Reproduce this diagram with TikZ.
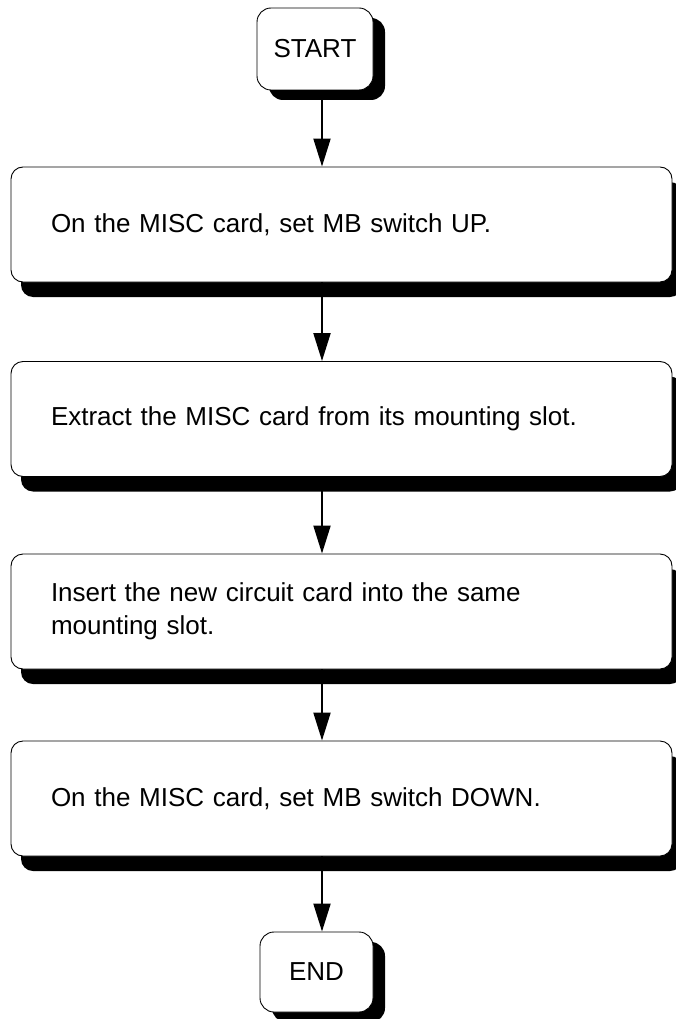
\documentclass[tikz,border=0pt]{standalone}
\usepackage{fontspec}
\setmainfont{Liberation Sans}
\usetikzlibrary{arrows.meta, shadows}
\begin{document}
\begin{tikzpicture}[
    x=1pt, y=-1pt,
    >={Triangle[length=28pt, width=17pt]},
    arr/.style={->, line width=2pt},
    txt/.style={font=\fontsize{26}{33}\selectfont},
    term/.style={txt, draw, line width=0.9pt, fill=white, rounded corners=14pt,
        minimum width=116pt, minimum height=82pt, inner sep=0pt,
        drop shadow={shadow xshift=12pt, shadow yshift=-10pt, fill=black, opacity=1}},
    proc/.style={txt, draw, line width=0.9pt, fill=white, rounded corners=12pt,
        minimum height=115pt, inner xsep=40pt, inner ysep=0pt, text width=581pt, align=left,
        drop shadow={shadow xshift=10pt, shadow yshift=-15pt, fill=black, opacity=1}},
]
\useasboundingbox (0,0) rectangle (676,1019);
% === Terminals and steps ===
\node[term] (start) at (315, 49) {START};
\node[proc] (s1) at (341.5, 224.5) {On the MISC card, set MB switch UP.};
\node[proc] (s2) at (341.5, 419) {Extract the MISC card from its mounting slot.};
\node[proc] (s3) at (341.5, 611.5) {Insert the new circuit card into the same\\mounting slot.};
\node[proc] (s4) at (341.5, 798.5) {On the MISC card, set MB switch DOWN.};
\node[term, minimum width=113pt, minimum height=80pt] (stop) at (316.5, 972) {END};
% === Connectors ===
\coordinate (ax) at (322, 0);
\draw[arr] (start.south -| ax) -- (s1.north -| ax);
\draw[arr] (s1.south -| ax) -- (s2.north -| ax);
\draw[arr] (s2.south -| ax) -- (s3.north -| ax);
\draw[arr] (s3.south -| ax) -- (s4.north -| ax);
\draw[arr] (s4.south -| ax) -- (stop.north -| ax);
\end{tikzpicture}
\end{document}
